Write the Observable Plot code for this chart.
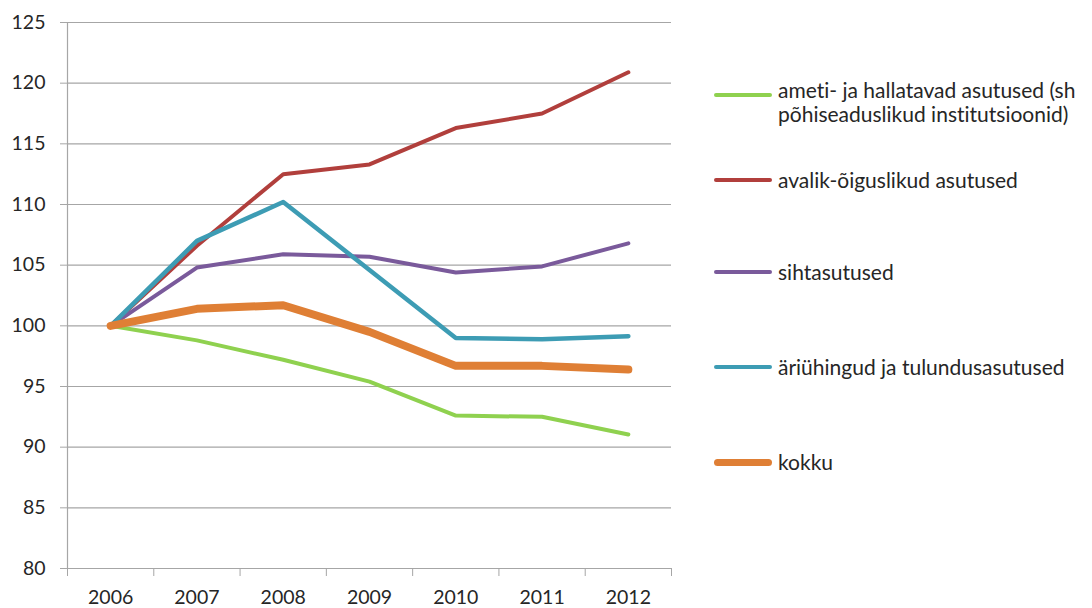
<!DOCTYPE html>
<html>
<head>
<meta charset="utf-8">
<script src="https://cdn.jsdelivr.net/npm/d3@7"></script>
<script src="https://cdn.jsdelivr.net/npm/@observablehq/plot@0.6"></script>
<style>
  html, body { margin: 0; padding: 0; background: #fff; overflow: hidden; width: 1092px; height: 608px; }
  #wrap { position: relative; width: 1092px; height: 608px; overflow: hidden; }
  .leg { position: absolute; left: 714px; font-family: Lato, sans-serif; font-size: 21px; color: #262626; white-space: nowrap; line-height: 24px; font-variant-ligatures: none; }
  .leg .sw { position: absolute; left: 0; width: 58px; border-radius: 4px; }
  .leg .tx { position: absolute; left: 64px; }
</style>
</head>
<body>
<div id="wrap"></div>
<script>
const years = [2006, 2007, 2008, 2009, 2010, 2011, 2012];
const seriesNames = [
  "ameti- ja hallatavad asutused (sh põhiseaduslikud institutsioonid)",
  "avalik-õiguslikud asutused",
  "sihtasutused",
  "äriühingud ja tulundusasutused",
  "kokku"
];
const ametiValues   = [100, 98.8, 97.2, 95.4, 92.6, 92.5, 91.05];
const avalikValues  = [100, 106.6, 112.5, 113.3, 116.3, 117.5, 120.9];
const sihtValues    = [100, 104.8, 105.9, 105.7, 104.4, 104.9, 106.8];
const ariValues     = [100, 107.0, 110.2, 104.6, 99.0, 98.9, 99.15];
const kokkuValues   = [100, 101.4, 101.7, 99.5, 96.7, 96.7, 96.4];
const yTicks = [80, 85, 90, 95, 100, 105, 110, 115, 120, 125];

const colors = ["#8fd14f", "#b13f3c", "#7a5a9b", "#3d9cb4", "#df7f35"];
const widths = [4, 4, 4, 4.5, 8];
const allValues = [ametiValues, avalikValues, sihtValues, ariValues, kokkuValues];

const boundaries = [...years.map(y => y - 0.5), years[years.length - 1] + 0.5];

const lineMarks = allValues.map((vals, i) =>
  Plot.line(years.map((yr, j) => ({year: yr, value: vals[j]})), {
    x: "year", y: "value", stroke: colors[i], strokeWidth: widths[i],
    strokeLinejoin: "round", strokeLinecap: "round"
  })
);

const chart = Plot.plot({
  width: 1092,
  height: 608,
  marginLeft: 67,
  marginRight: 421,
  marginTop: 22,
  marginBottom: 40,
  style: {fontFamily: "Lato, sans-serif", fontSize: "19.5px", color: "#262626", background: "#fff", overflow: "visible"},
  x: {type: "linear", domain: [boundaries[0], boundaries[boundaries.length - 1]]},
  y: {domain: [80, 125]},
  marks: [
    Plot.ruleY(yTicks, {x1: boundaries[0], x2: boundaries[boundaries.length - 1], stroke: "#a6a6a6", strokeWidth: 1.2}),
    Plot.ruleX([boundaries[0]], {y1: 80, y2: 125, stroke: "#a6a6a6", strokeWidth: 1.2}),
    Plot.axisY({ticks: yTicks, tickSize: 7, tickPadding: 15, stroke: "#a6a6a6", fill: "#262626", tickFormat: d => String(d), label: null}),
    Plot.axisX({ticks: boundaries, tickSize: 8, tickFormat: () => "", stroke: "#a6a6a6", label: null}),
    Plot.axisX({ticks: years, tickSize: 0, tickPadding: 22, fill: "#262626", tickFormat: d => String(d), label: null}),
    ...lineMarks
  ]
});
document.getElementById("wrap").appendChild(chart);

// legend
const legendY = [95, 180, 272, 367, 462];
const legendLines = [
  ["ameti- ja hallatavad asutused (sh", "põhiseaduslikud institutsioonid)"],
  [seriesNames[1]], [seriesNames[2]], [seriesNames[3]], [seriesNames[4]]
];
const wrap = document.getElementById("wrap");
legendLines.forEach((lines, i) => {
  const d = document.createElement("div");
  d.className = "leg";
  d.style.top = (legendY[i] - 12) + "px";
  const sw = document.createElement("div");
  sw.className = "sw";
  const h = i === 4 ? 7 : 4.5;
  sw.style.height = h + "px";
  sw.style.top = (12 - h / 2) + "px";
  sw.style.background = colors[i];
  const tx = document.createElement("div");
  tx.className = "tx";
  tx.style.top = lines.length > 1 ? "-5px" : "0px";
  tx.innerHTML = lines.join("<br>");
  d.appendChild(sw);
  d.appendChild(tx);
  wrap.appendChild(d);
});
</script>
</body>
</html>
